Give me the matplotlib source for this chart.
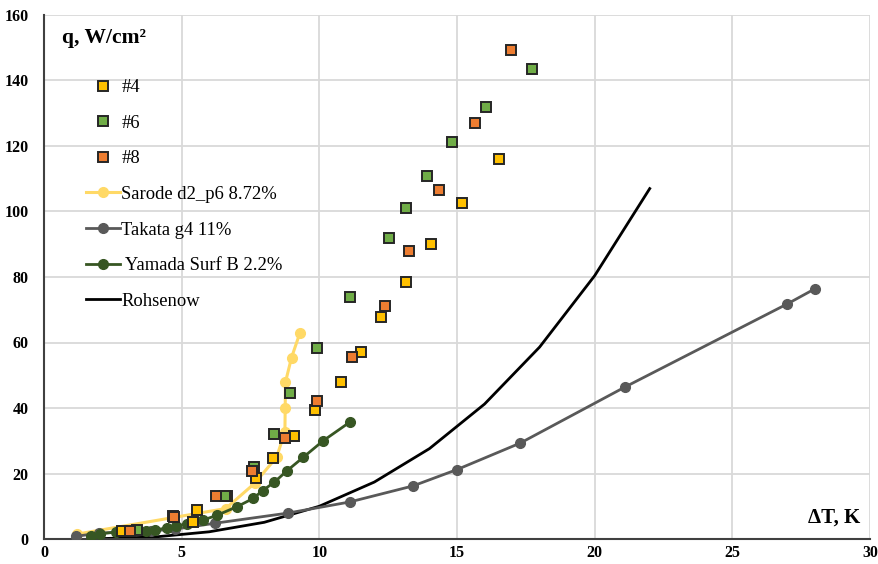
import matplotlib
matplotlib.use("Agg")
import matplotlib.pyplot as plt

plt.rcParams['font.family'] = ['Liberation Serif', 'DejaVu Serif']

# Measured samples (#4, #6, #8): superheat dT [K] and heat flux q [W/cm2]
s4_dt = [2.85, 4.7, 5.42, 5.55, 6.64, 7.70, 8.31, 9.07, 9.84, 10.8, 11.53, 12.23, 13.14, 14.07, 15.17, 16.52]
s4_q = [2.4, 7.0, 5.2, 8.8, 13.0, 18.6, 24.7, 31.5, 39.4, 47.9, 57.2, 67.7, 78.5, 90.2, 102.7, 116.0]

s6_dt = [3.38, 6.57, 7.62, 8.35, 8.93, 9.9, 11.12, 12.53, 13.14, 13.9, 14.83, 16.04, 17.71]
s6_q = [2.6, 13.1, 22.0, 32.0, 44.5, 58.3, 74.0, 91.8, 101.2, 110.9, 121.3, 131.9, 143.4]

s8_dt = [3.12, 4.73, 6.24, 7.55, 8.75, 9.91, 11.18, 12.4, 13.27, 14.35, 15.65, 16.95]
s8_q = [2.5, 6.6, 13.1, 20.8, 30.8, 42.1, 55.6, 71.1, 88.0, 106.7, 127.0, 149.2]

# Literature data
sarode_dt = [1.2, 6.6, 7.65, 8.45, 8.75, 8.76, 8.77, 8.99, 9.29]
sarode_q = [1.5, 9.3, 17.0, 25.0, 32.8, 40.1, 47.9, 55.4, 62.8]

takata_dt = [1.15, 2.0, 3.9, 4.75, 6.2, 8.85, 11.1, 13.4, 15.0, 17.3, 21.1, 27.0, 28.0]
takata_q = [0.8, 1.8, 2.5, 3.0, 4.8, 7.9, 11.3, 16.2, 21.2, 29.3, 46.4, 71.8, 76.4]

yamada_dt = [1.7, 2.05, 2.6, 3.1, 3.7, 4.03, 4.45, 4.8, 5.2, 5.78, 6.27, 7.02, 7.6, 7.94, 8.36, 8.82, 9.41, 10.14, 11.11]
yamada_q = [1.0, 1.6, 2.1, 2.3, 2.4, 2.7, 3.4, 4.0, 4.6, 5.8, 7.2, 9.9, 12.4, 14.8, 17.3, 20.8, 24.9, 30.0, 35.7]

rohsenow_dt = [2, 4, 6, 8, 10, 12, 14, 16, 18, 20, 22]
rohsenow_q = [0.1, 0.6, 2.2, 5.1, 10.0, 17.4, 27.6, 41.2, 58.6, 80.4, 107.0]

x_ticks = [0, 5, 10, 15, 20, 25, 30]
y_ticks = [0, 20, 40, 60, 80, 100, 120, 140, 160]

fig = plt.figure(figsize=(8.79, 5.64), dpi=100)
ax = fig.add_axes([44 / 879, 25 / 564, 826 / 879, 524 / 564])

sq = dict(ls='none', marker='s', ms=7.6, mec='#262626', mew=1.4, zorder=5)
ax.plot(s4_dt, s4_q, mfc='#FFC000', label='#4', **sq)
ax.plot(s6_dt, s6_q, mfc='#70AD47', label='#6', **sq)
ax.plot(s8_dt, s8_q, mfc='#ED7D31', label='#8', **sq)

ax.plot(sarode_dt, sarode_q, color='#FFD966', lw=2.2, marker='o', ms=7,
        label='Sarode d2_p6 8.72%', zorder=3)
ax.plot(takata_dt, takata_q, color='#595959', lw=2.0, marker='o', ms=7,
        label='Takata g4 11%', zorder=3)
ax.plot(yamada_dt, yamada_q, color='#375623', lw=2.0, marker='o', ms=7,
        label=' Yamada Surf B 2.2%', zorder=3)
ax.plot(rohsenow_dt, rohsenow_q, color='black', lw=2.0, label='Rohsenow', zorder=2)

ax.set_xlim(0, 30)
ax.set_ylim(0, 160)
ax.set_xticks(x_ticks)
ax.set_yticks(y_ticks)
ax.grid(True, color='#d9d9d9', lw=1.3)
ax.set_axisbelow(True)
ax.tick_params(length=0, labelsize=11.5)
ax.tick_params(axis='x', pad=4)
ax.tick_params(axis='y', pad=11)
for lab in ax.get_xticklabels() + ax.get_yticklabels():
    lab.set_fontweight('bold')

for side in ('top', 'right'):
    ax.spines[side].set_visible(False)
for side in ('left', 'bottom'):
    ax.spines[side].set_color('#404040')
    ax.spines[side].set_linewidth(1.5)

ax.text(62 / 879, 1 - 28 / 564, 'q, W/cm²', transform=fig.transFigure,
        fontsize=15.5, fontweight='bold', ha='left', va='top')
ax.text(860 / 879, 1 - 528 / 564, 'ΔT, K', transform=fig.transFigure,
        fontsize=15, fontweight='bold', ha='right', va='bottom')

leg = ax.legend(loc='upper left', bbox_to_anchor=(86 / 879, 1 - 79 / 564),
                bbox_transform=fig.transFigure, frameon=False, fontsize=13.4,
                handlelength=1.85, handletextpad=0.05, labelspacing=1.0,
                borderpad=0, borderaxespad=0)

fig.savefig('out.png', dpi=100)
